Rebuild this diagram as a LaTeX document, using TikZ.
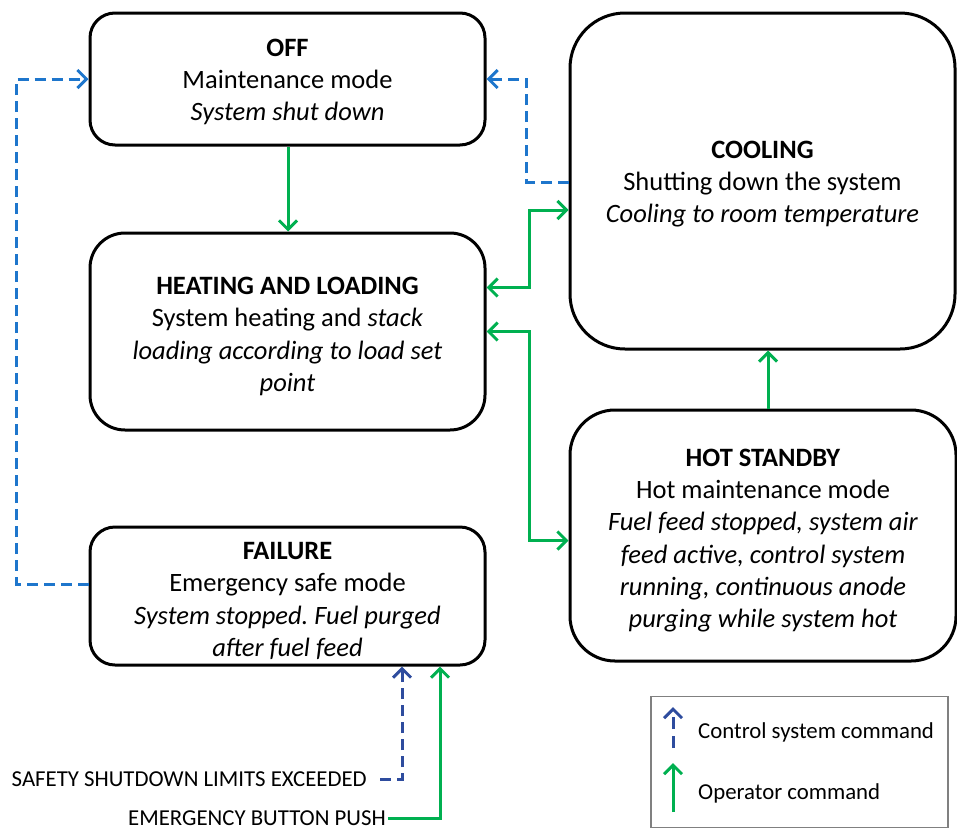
\documentclass[tikz,border=0pt]{standalone}
\usepackage{fontspec}
\setmainfont{Carlito}
\usetikzlibrary{arrows.meta}

\definecolor{ctrlblue}{RGB}{30,118,204}
\definecolor{ctrldark}{RGB}{46,76,158}
\definecolor{opgreen}{RGB}{0,176,80}

\tikzset{
  state/.style={draw, line width=3pt, rounded corners=#1, inner sep=0pt},
  statetext/.style={align=center, font=\fontsize{26.5}{32.2}\selectfont, inner sep=0pt},
  tip/.style={-{Straight Barb[length=9pt,width=18pt,line width=3pt]}},
  ctrl/.style={draw=ctrlblue, line width=3pt, dash pattern=on 11pt off 6pt, tip},
  ctrlb/.style={draw=ctrldark, line width=3pt, dash pattern=on 11pt off 6pt, tip},
  oper/.style={draw=opgreen, line width=3pt, tip},
  opboth/.style={draw=opgreen, line width=3pt,
    {Straight Barb[length=9pt,width=18pt,line width=3pt]}-{Straight Barb[length=9pt,width=18pt,line width=3pt]}},
  lab/.style={font=\fontsize{22.8}{26}\selectfont, inner sep=0pt},
  legtext/.style={font=\fontsize{22.8}{26}\selectfont, inner sep=0pt, anchor=west}
}

\begin{document}
\frenchspacing
\begin{tikzpicture}[x=1pt,y=-1pt]
\useasboundingbox (0,0) rectangle (957,830);

% operating states (frames)
\node[state=25pt, minimum width=395pt, minimum height=132pt] (off) at (287.5,79) {};
\node[state=35pt, minimum width=395pt, minimum height=197pt] (heat) at (287.5,331.5) {};
\node[state=25pt, minimum width=395pt, minimum height=138pt] (fail) at (287.5,596) {};
\node[state=55pt, minimum width=385pt, minimum height=336pt] (cool) at (762.5,181) {};
\node[state=45pt, minimum width=386pt, minimum height=251pt] (hot) at (763,535.5) {};

% state descriptions
\node[statetext] (offtext) at ([yshift=-3pt]off.center)
  {\textbf{OFF}\\Maintenance mode\\\textit{System shut down}};
\node[statetext] (heattext) at ([yshift=-5pt]heat.center)
  {\textbf{HEATING AND LOADING}\\System heating and \textit{stack}\\\textit{loading according to load set}\\\textit{point}};
\node[statetext] (failtext) at ([yshift=-5pt]fail.center)
  {\textbf{FAILURE}\\Emergency safe mode\\\textit{System stopped. Fuel purged}\\\textit{after fuel feed}};
\node[statetext] (cooltext) at ([yshift=-3pt]cool.center)
  {\textbf{COOLING}\\Shutting down the system\\\textit{Cooling to room temperature}};
\node[statetext] (hottext) at ([yshift=-5pt]hot.center)
  {\textbf{HOT STANDBY}\\Hot maintenance mode\\\textit{Fuel feed stopped, system air}\\\textit{feed active, control system}\\\textit{running, continuous anode}\\\textit{purging while system hot}};

% control system transitions
\draw[ctrl] ([yshift=12pt]fail.west) -- ++(-72,0) |- (off.west);
\draw[ctrl] ([yshift=-1pt]cool.west) -- ++(-42,0) |- (off.east);

% operator transitions
\draw[oper] ([xshift=0.5pt]off.south) -- ([xshift=0.5pt]heat.north);
\draw[opboth] ([yshift=44pt]heat.east) -- ++(43,0) |- ([yshift=-29pt]cool.west);
\draw[opboth] (heat.east) -- ++(43,0) |- ([yshift=-5pt]hot.west);
\draw[oper] ([xshift=5pt]hot.north) -- ([xshift=5pt]hot.north |- cool.south);

% external triggers into the failure state
\node[lab, anchor=east] (safety) at (367,779) {SAFETY SHUTDOWN LIMITS EXCEEDED};
\node[lab, anchor=east] (button) at (386,818) {EMERGENCY BUTTON PUSH};
\draw[ctrlb] ([xshift=13pt]safety.east) -| ([xshift=114.5pt]fail.south);
\draw[oper] ([xshift=2pt]button.east) -| ([xshift=152.5pt]fail.south);

% legend
\node[draw=gray, line width=1.3pt, minimum width=297pt, minimum height=131pt, inner sep=0pt] (legend) at (799.5,762) {};
\coordinate (lega) at (673,748);
\coordinate (legb) at (673,707);
\coordinate (legc) at (673,812);
\coordinate (legd) at (673,763);
\draw[ctrlb, dash pattern=on 12pt off 7pt] (lega) -- (legb);
\draw[oper] (legc) -- (legd);
\node[legtext] (legctrl) at (698,732) {Control system command};
\node[legtext] (legop) at (698,793) {Operator command};
\end{tikzpicture}
\end{document}
